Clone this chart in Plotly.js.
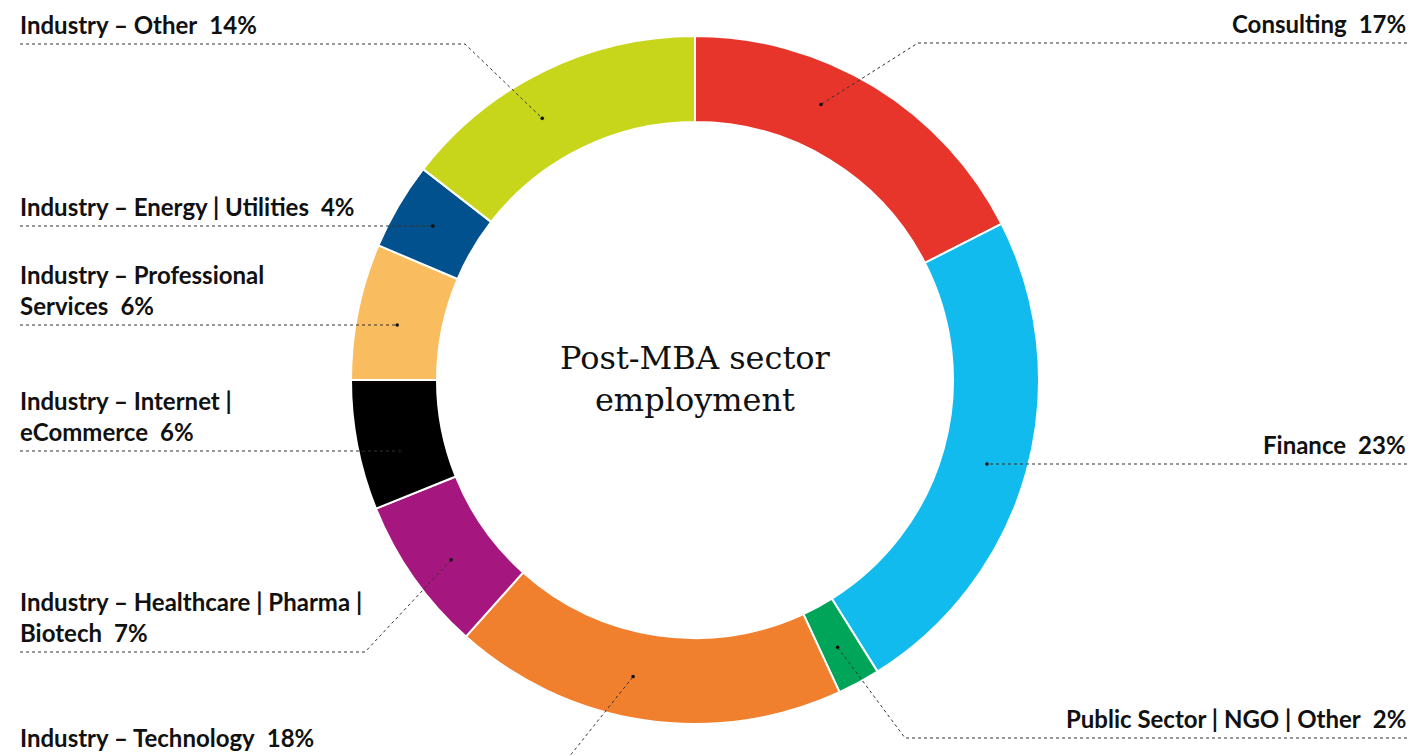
<!DOCTYPE html>
<html>
<head>
<meta charset="utf-8">
<script src="https://cdn.plot.ly/plotly-3.0.1.min.js"></script>
<style>html,body{margin:0;padding:0;background:#fff;}#chart{width:1415px;height:756px;}</style>
</head>
<body>
<div id="chart"></div>
<script>
// ---- data ----
const sectors = [
  "Consulting",
  "Finance",
  "Public Sector | NGO | Other",
  "Industry – Technology",
  "Industry – Healthcare | Pharma | Biotech",
  "Industry – Internet | eCommerce",
  "Industry – Professional Services",
  "Industry – Energy | Utilities",
  "Industry – Other"
];
// slice sizes (share of ring, %)
const shares = [17.5, 23.6, 2.0, 18.5, 7.3, 6.1, 6.4, 4.1, 14.5];
// percentages printed in the labels
const pctLabels = ["17%", "23%", "2%", "18%", "7%", "6%", "6%", "4%", "14%"];
// label text lines (without percentage)
const labelLines = [
  ["Consulting"],
  ["Finance"],
  ["Public Sector | NGO | Other"],
  ["Industry – Technology"],
  ["Industry – Healthcare | Pharma |", "Biotech"],
  ["Industry – Internet |", "eCommerce"],
  ["Industry – Professional", "Services"],
  ["Industry – Energy | Utilities"],
  ["Industry – Other"]
];
const centerLines = ["Post-MBA sector", "employment"];
const colors = ["#E8352C", "#12BBEE", "#00A55A", "#F07F2E", "#A5177F", "#000000", "#F9BD5F", "#00518D", "#C8D61B"];

// ---- layout / style (pixels) ----
const W = 1415, H = 756, CX = 695, CY = 380, R = 344, HOLE = 0.75;
const DOT_R = 303;
// per label: side, underline y, elbow (or null), position of dot within its slice (fraction)
const labelStyle = [
  {side: "right", lineY: 43,  elbowX: 918, frac: 0.39},
  {side: "right", lineY: 464, elbowX: null, frac: 0.50},
  {side: "right", lineY: 738, elbowX: 905, frac: 0.55},
  {side: "left",  lineY: 757, elbowX: 569, frac: 0.55},
  {side: "left",  lineY: 652, elbowX: 365, frac: 0.45},
  {side: "left",  lineY: 451, elbowX: null, frac: 0.40},
  {side: "left",  lineY: 325, elbowX: null, frac: 0.46},
  {side: "left",  lineY: 226, elbowX: null, frac: 0.48},
  {side: "left",  lineY: 44,  elbowX: 465, frac: 0.42}
];
const LEFT_X = 20, RIGHT_X = 1407;
const px = x => x / W;
const py = y => 1 - y / H;

const total = shares.reduce((a, b) => a + b, 0);
let cum = 0;
const shapes = [], annotations = [];
const labelFont = {family: "Lato, 'Open Sans', sans-serif", size: 24, color: "#111"};
const lineStyle = {color: "#333", width: 1, dash: "dot"};

shares.forEach((v, i) => {
  const st = labelStyle[i];
  const a0 = cum / total * 360, span = v / total * 360;
  cum += v;
  const ang = (a0 + st.frac * span) * Math.PI / 180;
  const dx = CX + DOT_R * Math.sin(ang);
  const dy = CY - DOT_R * Math.cos(ang);
  const edgeX = st.side === "left" ? LEFT_X : RIGHT_X;
  let path;
  if (st.elbowX === null) {
    path = `M ${px(edgeX)} ${py(st.lineY)} L ${px(dx)} ${py(st.lineY)}`;
  } else {
    path = `M ${px(edgeX)} ${py(st.lineY)} L ${px(st.elbowX)} ${py(st.lineY)} L ${px(dx)} ${py(dy)}`;
  }
  shapes.push({type: "path", xref: "paper", yref: "paper", path: path, line: lineStyle});
  const dyDot = st.elbowX === null ? st.lineY : dy;
  shapes.push({type: "circle", xref: "paper", yref: "paper",
    x0: px(dx - 1.8), x1: px(dx + 1.8), y0: py(dyDot + 1.8), y1: py(dyDot - 1.8),
    fillcolor: "#111", line: {width: 0}});
  const lines = labelLines[i].slice();
  lines[lines.length - 1] = lines[lines.length - 1] + "\u2002" + pctLabels[i];
  annotations.push({
    text: "<b>" + lines.join("<br>") + "</b>",
    xref: "paper", yref: "paper",
    x: px(st.side === "left" ? edgeX - 2 : edgeX + 1), y: py(st.lineY - 3),
    xanchor: st.side === "left" ? "left" : "right",
    yanchor: "bottom",
    align: st.side === "left" ? "left" : "right",
    showarrow: false,
    font: labelFont
  });
});

// centre title
annotations.push({
  text: centerLines.join("<br>"), xref: "paper", yref: "paper", x: px(CX), y: py(379),
  xanchor: "center", yanchor: "middle", align: "center", borderpad: 0,
  showarrow: false, font: {family: "'DejaVu Serif', serif", size: 32, color: "#111"}
});

const trace = {
  type: "pie",
  labels: sectors,
  values: shares,
  sort: false,
  direction: "clockwise",
  rotation: 0,
  hole: HOLE,
  textinfo: "none",
  hoverinfo: "none",
  marker: {colors: colors, line: {color: "#ffffff", width: 2}},
  domain: {x: [px(CX - R), px(CX + R)], y: [py(CY + R), py(CY - R)]},
  showlegend: false
};

Plotly.newPlot("chart", [trace], {
  width: W, height: H,
  margin: {l: 0, r: 0, t: 0, b: 0},
  paper_bgcolor: "#ffffff",
  showlegend: false,
  shapes: shapes,
  annotations: annotations
}, {displayModeBar: false, staticPlot: true});
</script>
</body>
</html>
